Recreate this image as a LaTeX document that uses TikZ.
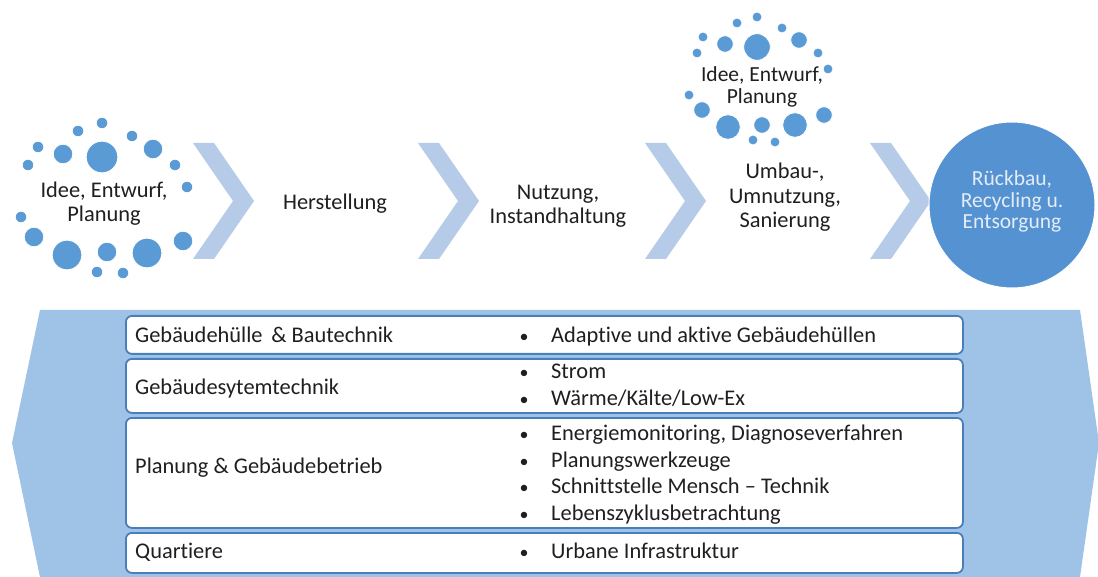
\documentclass[tikz,border=0pt]{standalone}
\usepackage{fontspec}
\setmainfont{Carlito}[Ligatures=CommonOff]
\definecolor{txt}{HTML}{1F1F1F}
\definecolor{dotc}{HTML}{5B9BD5}
\definecolor{circc}{HTML}{5592D2}
\definecolor{chevc}{HTML}{B5CBE8}
\definecolor{panelc}{HTML}{9FC3E6}
\definecolor{boxline}{HTML}{4A7EBB}
\definecolor{circtxt}{HTML}{E4ECF7}
\begin{document}
\begin{tikzpicture}[x=1pt,y=-1pt,
  lbl/.style={font=\fontsize{22.4}{24.5}\selectfont, text=txt, inner sep=0pt, align=center, anchor=base},
  lbltwo/.style={font=\fontsize{21.5}{22.5}\selectfont, text=txt, inner sep=0pt, align=center, anchor=base},
  rowtxt/.style={font=\fontsize{22.4}{27}\selectfont, text=txt, inner sep=0pt, anchor=base west},
  bul/.style={font=\fontsize{18}{27}\selectfont, text=txt, inner sep=0pt, anchor=base},
  rowbox/.style={draw=boxline, line width=1.8pt, fill=white, rounded corners=6pt, minimum width=837pt, anchor=north west, inner sep=0pt},
  chevshape/.style={fill=chevc},
  dotshape/.style={fill=dotc, draw=white, line width=0.8pt},
  endcircle/.style={circle, fill=circc, draw=white, line width=1pt, minimum size=166pt, inner sep=0pt},
]
\useasboundingbox (0,0) rectangle (1098,577);
\fill[white] (0,0) rectangle (1098,577);

% chevrons
\foreach \cx in {193,418,645,870}{
  \fill[chevshape] (\cx,143) -- (\cx+21,143) -- (\cx+61,201) -- (\cx+21,259) -- (\cx,259) -- (\cx+40,201) -- cycle;
}

% dot cluster 1
\foreach \dx/\dy/\dr in {102/123/5.8,78/131/5.8,132/136/5.8,38/147/5.8,63/154/9.8,102/157/15.8,153/149/9.8,28/165/5.8,175/165/5.8,187/187/5.8,21/217/5.8,34/237/9.8,67/255/14.8,107/252/9.8,147/253/14.8,183/241/9.8,97/272/5.8,123/273/5.8}{
  \filldraw[dotshape] (\dx,\dy) circle[radius=\dr];
}
% dot cluster 2
\foreach \dx/\dy/\dr in {757/17/5,737/23/5,782/28/5,703/37/5,725/44/8.3,757/47/13.3,799/40/8.3,697/53/5,818/53/5,828/69/5,689/95/5,702/110/8.3,728/127/12.3,762/125/8.3,795/125/12.3,824/115/8.3,753/140/5,775/142/5}{
  \filldraw[dotshape] (\dx,\dy) circle[radius=\dr];
}

% phase labels (base anchor = baseline of last line)
\node[lbl] (idee1) at (104,222) {Idee, Entwurf,\\Planung};
\node[lbl] (herst) at (335,210) {Herstellung};
\node[lbl] (nutz) at (558,224) {Nutzung,\\Instandhaltung};
\node[lbl] (umbau) at (785,228) {Umbau-,\\Umnutzung,\\Sanierung};
\node[lbltwo] (idee2) at (762,104) {Idee, Entwurf,\\Planung};

% end circle
\node[endcircle] (rueck) at (1012,205) {};
\node[font=\fontsize{21.5}{21.5}\selectfont, text=circtxt, inner sep=0pt, align=center, anchor=base] (rtxt) at (1012,229) {Rückbau,\\Recycling u.\\Entsorgung};

% bottom panel
\fill[panelc] (40,310) -- (1080,310) -- (1099,443) -- (1080,577) -- (40,577) -- (12,443) -- cycle;

% rows
\node[rowbox, minimum height=38pt] (b1) at (125,315) {};
\node[rowbox, minimum height=54pt] (b2) at (125,358) {};
\node[rowbox, minimum height=110pt] (b3) at (125,417) {};
\node[rowbox, minimum height=40pt] (b4) at (125,532) {};

\node[rowtxt] (l1) at (135,343) {Gebäudehülle \,\& Bautechnik};
\node[rowtxt] (l2) at (135,394) {Gebäudesytemtechnik};
\node[rowtxt] (l3) at (135,473) {Planung \& Gebäudebetrieb};
\node[rowtxt] (l4) at (135,558) {Quartiere};

\foreach \by/\bt [count=\i] in {343/{Adaptive und aktive Gebäudehüllen},378/{Strom},405/{Wärme/Kälte/Low-Ex},440/{Energiemonitoring, Diagnoseverfahren},467/{Planungswerkzeuge},493/{Schnittstelle Mensch – Technik},520/{Lebenszyklusbetrachtung},558/{Urbane Infrastruktur}}{
  \node[bul] (bu\i) at (524,\by) {•};
  \node[rowtxt] (it\i) at (551,\by) {\bt};
}
\end{tikzpicture}
\end{document}
